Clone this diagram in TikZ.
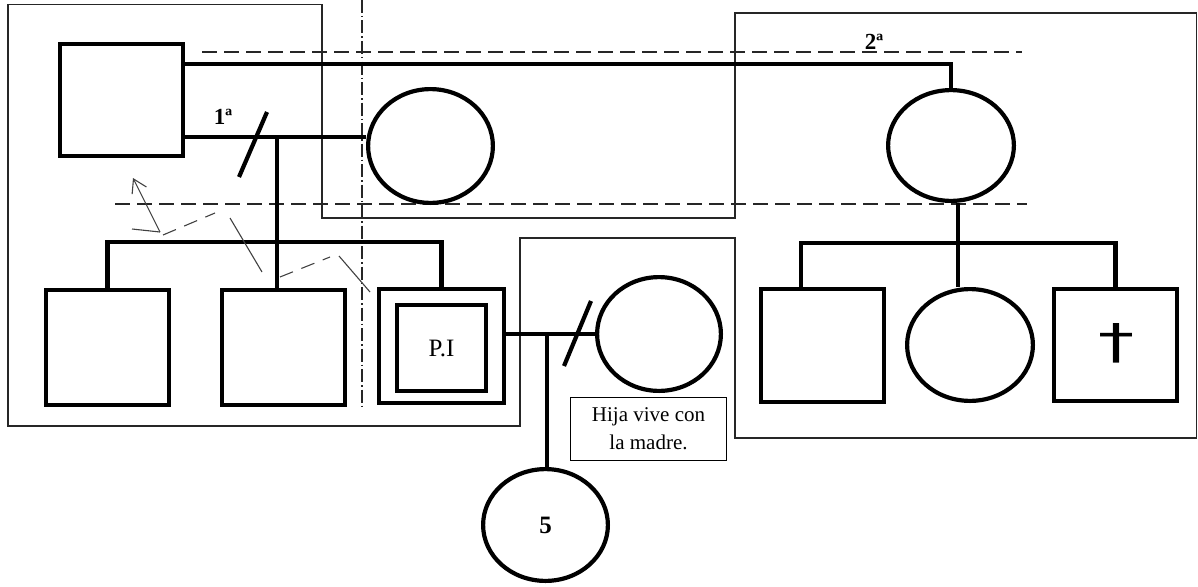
\documentclass[tikz,border=0pt]{standalone}
\usepackage{fontspec}
\setmainfont{Liberation Serif}
\newfontfamily\symfont{DejaVu Sans}
\usetikzlibrary{shapes.geometric,arrows.meta,calc}
\begin{document}
\begin{tikzpicture}[x=1pt,y=-1pt,
  sq/.style={draw, rectangle, line width=4.2pt, inner sep=0pt},
  fem/.style={draw, ellipse, line width=4.2pt, inner sep=0pt},
  rel/.style={line width=4.2pt},
  frame/.style={line width=1.2pt, draw=black!85},
  guide/.style={line width=1.2pt, draw=black!85, dash pattern=on 15pt off 7pt},
  guidev/.style={line width=1.2pt, draw=black!85, dash pattern=on 13pt off 3pt on 1.5pt off 3pt},
  zig/.style={line width=1.1pt, draw=black!75},
  zigd/.style={line width=1.1pt, draw=black!75, dash pattern=on 14pt off 9pt},
  lab/.style={font=\bfseries\fontsize{23pt}{25pt}\selectfont, inner sep=0pt},
]
\useasboundingbox (0,0) rectangle (1198,586);

% thin frames
\draw[frame] (520,238) -- (520,426) -- (8,426) -- (8,4.5) -- (322,4.5) -- (322,218)
  -- (735,218) -- (735,13) -- (1196.5,13) -- (1196.5,438) -- (735,438) -- (735,238) -- cycle;

% guide dashed lines
\draw[guide] (202,52) -- (1022,52);
\draw[guide] (115,204) -- (1027,204);
\draw[guidev] (362,0) -- (362,410);

% persons
\node[sq, minimum width=122.8pt, minimum height=111.8pt] (gf) at (121.5,100) {};
\node[fem, minimum width=124.8pt, minimum height=113.8pt] (w1) at (430.5,146) {};
\node[fem, minimum width=125.8pt, minimum height=110.8pt] (w2) at (951,145.5) {};
\node[sq, minimum width=122.8pt, minimum height=114.8pt] (c1) at (107.5,347.5) {};
\node[sq, minimum width=122.8pt, minimum height=114.8pt] (c2) at (283.5,347.5) {};
\node[sq, minimum width=124.8pt, minimum height=113.8pt] (pi) at (441.5,346) {};
\node[sq, minimum width=88.8pt, minimum height=85.8pt, font=\fontsize{25pt}{27pt}\selectfont] (pin) at (441.5,348) {P.I};
\node[fem, minimum width=123.8pt, minimum height=113.8pt] (w3) at (659,334) {};
\node[fem, minimum width=124.8pt, minimum height=111.8pt, font=\bfseries\fontsize{25pt}{27pt}\selectfont] (d) at (545.5,525) {5};
\node[sq, minimum width=122.8pt, minimum height=112.8pt] (r1) at (822.5,345.5) {};
\node[fem, minimum width=125.8pt, minimum height=111.8pt] (r2) at (970,345) {};
\node[sq, minimum width=122.8pt, minimum height=111.8pt] (r3) at (1115.5,345) {};
\node[inner sep=0pt, font=\symfont\fontsize{48pt}{50pt}\selectfont] (dg) at (1116,343) {\scalebox{1.5}[1]{†}};

% note
\node[draw, line width=1.2pt, minimum width=155.8pt, minimum height=62.8pt, align=center,
      inner sep=0pt, font=\fontsize{21pt}{28pt}\selectfont] (note) at (648.5,429) {Hija vive con\\la madre.};

% labels
\node[lab] (l1) at (223,117) {1ª};
\node[lab] (l2) at (874,42) {2ª};

% relationship lines
\draw[rel] ([yshift=36pt]gf.east) -| (w2.north);
\draw[rel] ([yshift=-37pt]gf.east) -- ([yshift=9pt]w1.west);
\coordinate (m1) at (277,137);
\coordinate (sibL) at (0,242);
\draw[rel] (m1) -- (m1 |- c2.north);
\draw[rel] (c1.north) -- (c1.north |- sibL) -- (pi.north |- sibL) -- (pi.north);
\draw[rel] (239,177) -- (267,112);

\draw[rel] ([yshift=12pt]pi.east) -- (w3.west);
\coordinate (m2) at (547,334);
\draw[rel] (m2) -- (m2 |- d.north);
\draw[rel] (564,366) -- (591,301);

\coordinate (rv) at (958,243);
\draw[rel] (rv |- w2.south) -- (rv |- r2.north);
\draw[rel] ([xshift=-21.5pt]r1.north) |- (rv) -| (r3.north);

% zigzag relation
\coordinate (z0) at (132,229);
\coordinate (z1) at (160,232);
\coordinate (zt) at (133,178);
\draw[zig] (z0) -- (z1);
\draw[zig, -{Straight Barb[length=13pt,width=16pt]}] (z1) -- (zt);
\draw[zigd] (163,235) -- (215,213);
\draw[zig] (230,218) -- (262,272);
\draw[zigd] (280,277) -- (330,257);
\draw[zig] (339,256) -- (370,292);
\end{tikzpicture}
\end{document}
